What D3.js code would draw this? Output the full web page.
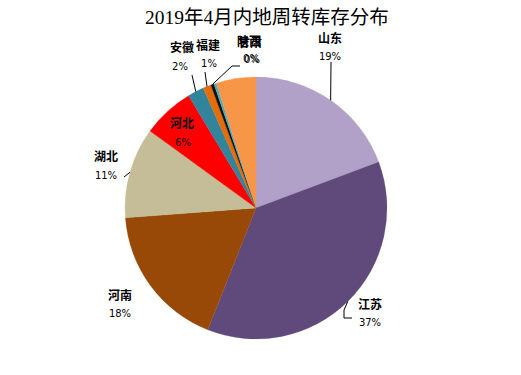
<!DOCTYPE html>
<html><head><meta charset="utf-8">
<script src="https://cdn.jsdelivr.net/npm/d3@7"></script>
<style>body{margin:0;background:#fff}</style>
</head><body>
<svg id="c" width="521" height="375"></svg>
<script>
const categories = ["山东","江苏","河南","湖北","河北","安徽","福建","陕西","甘肃","其他"];
const values = [19.3, 36.7, 17.8, 11.2, 6.4, 2.0, 1.0, 0.4, 0.3, 4.9];
const pctLabels = ["19%","37%","18%","11%","6%","2%","1%","0%","0%",""];
const colors = ["#B1A0C7","#604A7B","#984807","#C4BD97","#FF0000","#31849B","#E46C0A","#111111","#4BACC6","#F79646"];
const title = "2019年4月内地周转库存分布";

const svg = d3.select("#c");
const cx = 256, cy = 208, R = 131;
const g = svg.append("g").attr("transform", `translate(${cx},${cy})`);

const pie = d3.pie().sort(null).value(d => d);
const arcs = pie(values);
const arc = d3.arc().innerRadius(0).outerRadius(R);

g.selectAll("path").data(arcs).join("path")
  .attr("d", arc).attr("fill", (d,i) => colors[i])
  .attr("stroke", (d,i) => colors[i]).attr("stroke-width", 0.3);

// label layout (relative to centre): name position, percent position, leader path points
const layout = [
  {n:[74,-165], p:[74,-148], lead:[[75,-146]]},
  {n:[114,101], p:[114,118], lead:[[92,104],[96,104]], kink:true},
  {n:[-136,92], p:[-136,109], lead:null},
  {n:[-150,-47], p:[-150,-29], lead:[[-132,-31]]},
  {n:[-74,-80], p:[-73,-62], lead:null},
  {n:[-74,-156], p:[-76,-138], lead:[[-64,-133]]},
  {n:[-48,-158], p:[-47,-141], lead:[[-51,-136]]},
  {n:[-7,-162], p:[-5,-146], lead:[[-24,-142],[-16,-142]]},
  {n:[-6,-161], p:[-4,-145], lead:null},
  null
];

arcs.forEach((d,i) => {
  const L = layout[i];
  if (!L) return;
  const a = (d.startAngle + d.endAngle)/2;
  const ex = R*Math.sin(a), ey = -R*Math.cos(a);
  if (L.lead) {
    let pts = [[ex,ey]];
    if (L.kink) pts = [[ex,ey],[L.lead[0][0]-4, L.lead[0][1]-2],[L.lead[0][0]-4, L.lead[0][1]+6],[L.lead[1][0], L.lead[0][1]+6]];
    else pts = pts.concat(L.lead);
    g.append("path").attr("d", d3.line()(pts)).attr("fill","none")
      .attr("stroke","#000").attr("stroke-width",1);
  }
  g.append("text").attr("x",L.n[0]).attr("y",L.n[1]).attr("text-anchor","middle")
    .attr("font-family","'Noto Sans CJK SC'").attr("font-weight","bold")
    .attr("font-size",12).attr("fill","#000").text(categories[i]);
  g.append("text").attr("x",L.p[0]).attr("y",L.p[1]).attr("text-anchor","middle")
    .attr("font-family","'DejaVu Sans'").attr("font-size",10)
    .attr("fill","#000").text(pctLabels[i]);
});

svg.append("text").attr("x",267).attr("y",24).attr("text-anchor","middle")
  .attr("font-family","'Liberation Serif','Noto Sans CJK SC'").attr("font-size",19.5)
  .attr("fill","#000").text(title);
</script>
</body></html>
